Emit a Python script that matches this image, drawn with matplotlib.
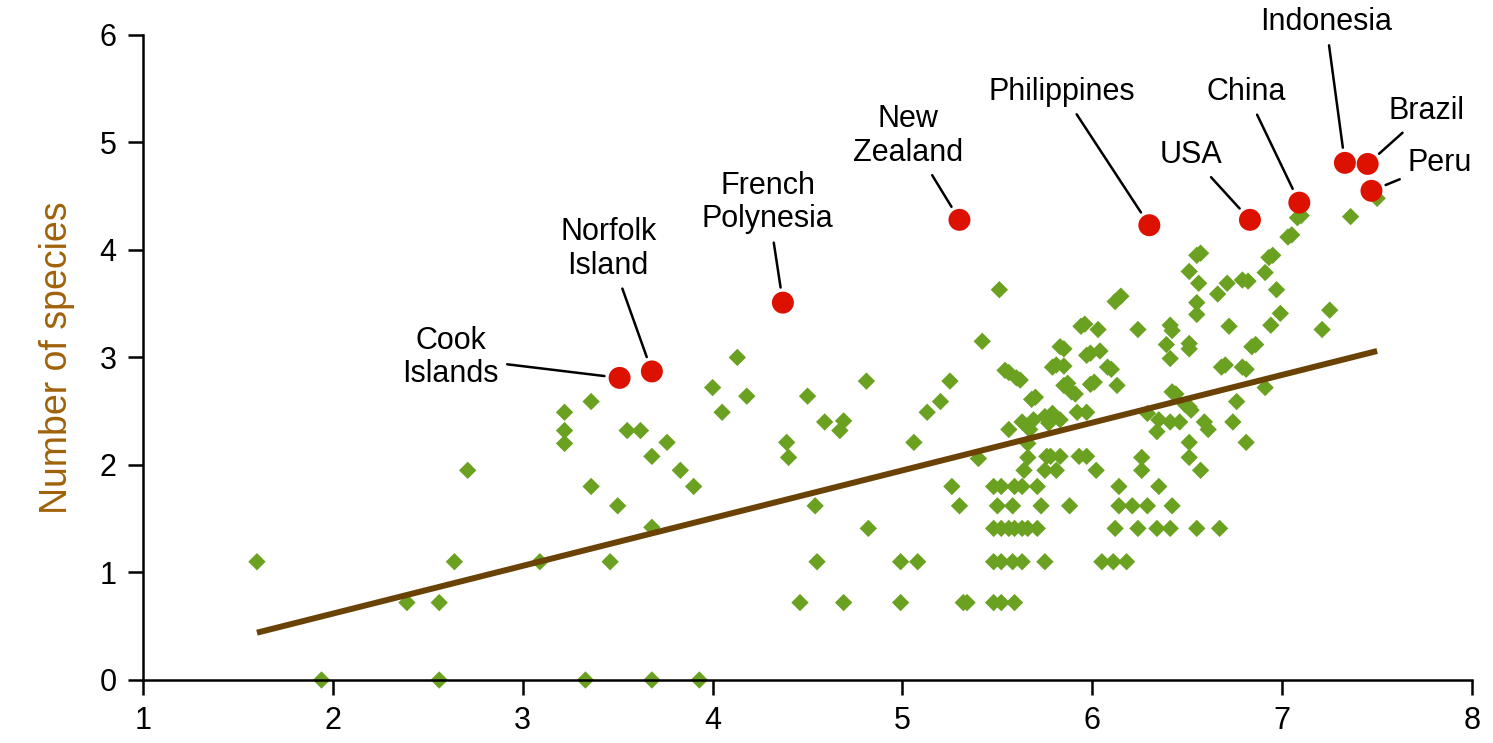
import matplotlib.pyplot as plt

plt.rcParams["font.family"] = ["Liberation Sans", "DejaVu Sans"]

# Green diamonds: all countries
green_x = [
    1.60, 1.94, 2.39, 2.56, 2.56, 2.64, 2.71, 3.09, 3.33, 3.22, 3.22, 3.22,
    3.36, 3.36, 3.50, 3.46, 3.55, 3.62, 3.68, 3.93, 3.76, 3.68, 3.83, 3.90,
    3.68, 4.13, 4.00, 4.18, 4.05, 4.81, 4.50, 4.59, 4.69, 4.67, 4.39, 4.40,
    5.06, 5.25, 5.20, 5.13, 5.40, 5.26, 5.30, 4.54, 4.82, 4.55, 4.99, 5.08,
    4.46, 4.69, 4.99, 5.32, 5.34,
    5.51, 5.42, 6.12, 6.15, 5.94, 5.96, 6.03, 5.83, 5.85, 5.97, 5.99, 6.04,
    5.79, 5.81, 5.85, 6.08, 6.10, 5.54, 5.56, 5.60, 5.62, 5.85, 5.87, 5.89,
    5.91, 5.99, 6.01, 6.13, 5.68, 5.70, 6.42, 6.44, 6.49, 6.51, 6.52, 6.68,
    6.70, 6.79, 6.81, 6.76, 6.74, 6.81, 5.79, 5.75, 5.83, 5.92, 5.97, 5.63,
    5.69, 5.56, 5.67, 5.77, 6.29, 6.35, 6.41, 6.46, 6.34, 6.59, 6.61, 6.51,
    6.51, 6.57, 5.66, 5.66, 5.76, 5.78, 5.83, 5.93, 5.97, 5.64, 5.75, 5.81,
    6.02, 6.26, 6.26, 6.14, 6.35, 5.48, 5.52, 5.59, 5.63, 5.71, 5.50, 5.58,
    5.73, 5.88, 6.14, 6.21, 6.29, 6.42, 5.48, 5.52, 5.56, 5.59, 5.63, 5.66,
    5.71, 6.12, 6.24, 6.34, 6.41, 6.55, 6.67, 5.48, 5.52, 5.58, 5.63, 5.75,
    6.05, 6.11, 6.18, 5.48, 5.52, 5.59,
    6.55, 6.57, 6.51, 6.56, 6.71, 6.66, 6.79, 6.55, 6.55, 6.72, 6.24, 6.41,
    6.42, 6.39, 6.51, 6.51, 6.41, 6.82, 6.93, 6.95, 6.91, 6.97, 6.99, 6.94,
    7.03, 7.05, 7.08, 7.10, 7.36, 7.50, 7.25, 7.21, 6.84, 6.86, 6.91,
]
green_y = [
    1.10, 0.00, 0.72, 0.72, 0.00, 1.10, 1.95, 1.10, 0.00, 2.49, 2.32, 2.20,
    2.59, 1.80, 1.62, 1.10, 2.32, 2.32, 0.00, 0.00, 2.21, 2.08, 1.95, 1.80,
    1.42, 3.00, 2.72, 2.64, 2.49, 2.78, 2.64, 2.40, 2.41, 2.32, 2.21, 2.07,
    2.21, 2.78, 2.59, 2.49, 2.06, 1.80, 1.62, 1.62, 1.41, 1.10, 1.10, 1.10,
    0.72, 0.72, 0.72, 0.72, 0.72,
    3.63, 3.15, 3.52, 3.57, 3.29, 3.31, 3.26, 3.10, 3.08, 3.02, 3.04, 3.06,
    2.91, 2.93, 2.92, 2.91, 2.89, 2.88, 2.86, 2.81, 2.79, 2.74, 2.76, 2.68,
    2.66, 2.75, 2.77, 2.74, 2.61, 2.63, 2.68, 2.66, 2.56, 2.54, 2.51, 2.91,
    2.93, 2.91, 2.89, 2.59, 2.40, 2.21, 2.48, 2.45, 2.42, 2.49, 2.49, 2.40,
    2.42, 2.33, 2.33, 2.39, 2.48, 2.42, 2.40, 2.40, 2.31, 2.40, 2.33, 2.21,
    2.07, 1.95, 2.20, 2.07, 2.08, 2.08, 2.08, 2.08, 2.08, 1.95, 1.95, 1.95,
    1.95, 2.07, 1.95, 1.80, 1.80, 1.80, 1.80, 1.80, 1.80, 1.80, 1.62, 1.62,
    1.62, 1.62, 1.62, 1.62, 1.62, 1.62, 1.41, 1.41, 1.41, 1.41, 1.41, 1.41,
    1.41, 1.41, 1.41, 1.41, 1.41, 1.41, 1.41, 1.10, 1.10, 1.10, 1.10, 1.10,
    1.10, 1.10, 1.10, 0.72, 0.72, 0.72,
    3.95, 3.97, 3.80, 3.69, 3.69, 3.59, 3.72, 3.51, 3.40, 3.29, 3.26, 3.30,
    3.25, 3.12, 3.13, 3.08, 2.99, 3.71, 3.93, 3.95, 3.79, 3.63, 3.41, 3.30,
    4.12, 4.14, 4.30, 4.32, 4.31, 4.48, 3.44, 3.26, 3.10, 3.12, 2.72,
]

# Highlighted countries
red_names = ["Cook\nIslands", "Norfolk\nIsland", "French\nPolynesia", "New\nZealand",
             "Philippines", "USA", "China", "Indonesia", "Brazil", "Peru"]
red_x = [3.51, 3.68, 4.37, 5.30, 6.30, 6.83, 7.09, 7.33, 7.45, 7.47]
red_y = [2.81, 2.87, 3.51, 4.28, 4.23, 4.28, 4.44, 4.81, 4.80, 4.55]
label_x = [2.62, 3.45, 4.29, 5.03, 5.84, 6.52, 6.81, 7.23, 7.76, 7.83]
label_y = [3.00, 4.01, 4.44, 5.06, 5.47, 4.88, 5.47, 6.12, 5.29, 4.81]

# Trend line
trend_x = [1.60, 7.50]
trend_y = [0.44, 3.06]

fig = plt.figure(figsize=(14.93, 7.43), dpi=100)
ax = fig.add_axes([0.0958, 0.0848, 0.8902, 0.8682])

ax.scatter(green_x, green_y, marker="D", s=78, color="#6aa121",
           edgecolors="none", zorder=2, clip_on=False)
ax.plot(trend_x, trend_y, color="#6b4205", linewidth=4.3,
        solid_capstyle="butt", zorder=3)
ax.scatter(red_x, red_y, marker="o", s=250, color="#dd1100",
           edgecolors="none", zorder=4, clip_on=False)

for name, px, py, tx, ty in zip(red_names, red_x, red_y, label_x, label_y):
    ax.annotate(name, xy=(px, py), xytext=(tx, ty), ha="center", va="center",
                fontsize=22, linespacing=1.15, annotation_clip=False,
                arrowprops=dict(arrowstyle="-", color="black", lw=1.8,
                                shrinkA=4, shrinkB=11))

ax.set_xlim(1, 8)
ax.set_ylim(0, 6)
ax.set_xticks(range(1, 9))
ax.set_yticks(range(0, 7))
ax.spines["top"].set_visible(False)
ax.spines["right"].set_visible(False)
ax.spines["left"].set_linewidth(1.8)
ax.spines["bottom"].set_linewidth(1.8)
ax.tick_params(direction="out", length=11, width=1.8, labelsize=22, pad=8)
ax.set_ylabel("Number of species", fontsize=27, color="#a0620a", labelpad=18)

plt.savefig("out.png", dpi=100)
